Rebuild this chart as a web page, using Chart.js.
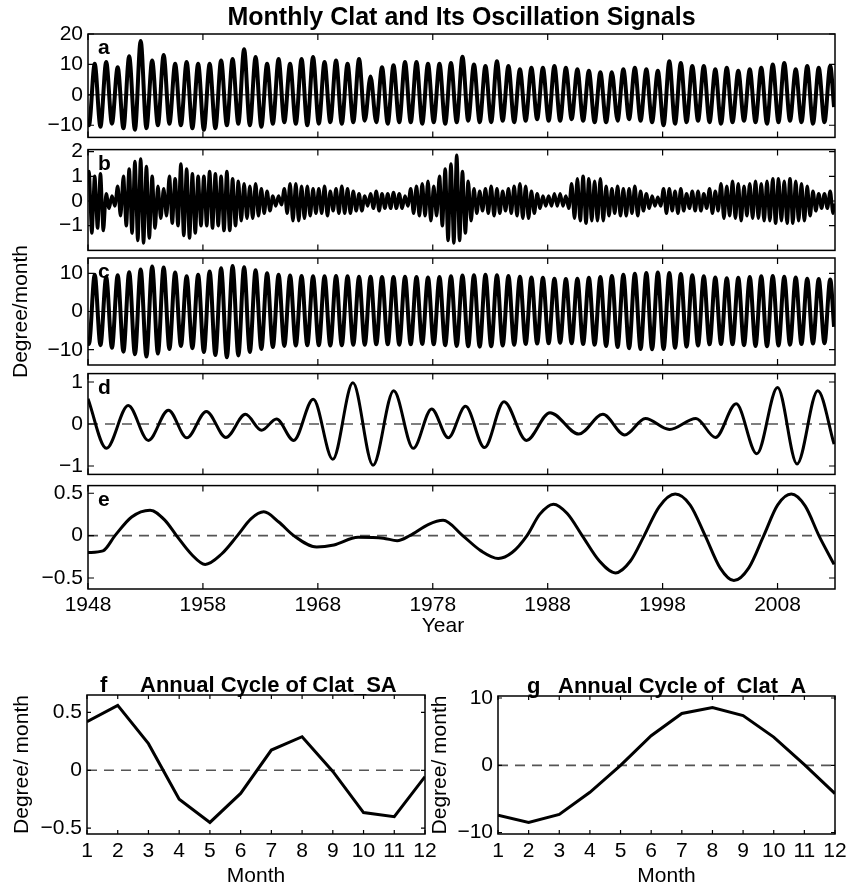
<!DOCTYPE html>
<html>
<head>
<meta charset="utf-8">
<script src="https://cdn.jsdelivr.net/npm/chart.js@4.4.0/dist/chart.umd.min.js"></script>
<style>
  body { margin: 0; background: #fff; }
  #wrap { position: relative; width: 861px; height: 889px; }
  canvas { position: absolute; }
</style>
</head>
<body>
<div id="wrap">
  <canvas id="ca" width="861" height="155" style="left:0;top:0"></canvas>
  <canvas id="cb" width="861" height="136" style="left:0;top:132px"></canvas>
  <canvas id="cc" width="861" height="165" style="left:0;top:230px"></canvas>
  <canvas id="cd" width="861" height="136" style="left:0;top:356px"></canvas>
  <canvas id="ce" width="861" height="172" style="left:0;top:468px"></canvas>
  <canvas id="cf" width="450" height="239" style="left:0;top:650px"></canvas>
  <canvas id="cg" width="433" height="239" style="left:428px;top:650px"></canvas>
</div>
<script>
// time axis
var firstYear = 1948, lastYear = 2012;
var yearTicks = [1948, 1958, 1968, 1978, 1988, 1998, 2008];
var months = [1, 2, 3, 4, 5, 6, 7, 8, 9, 10, 11, 12];

// y tick values of each panel
var aTicks = [-10, 0, 10, 20];
var bTicks = [-1, 0, 1, 2];
var cTicks = [-10, 0, 10];
var dTicks = [-1, 0, 1];
var eTicks = [-0.5, 0, 0.5];
var fTicks = [-0.5, 0, 0.5];
var gTicks = [-10, 0, 10];

// a: monthly Clat, yearly maximum (Aug) and minimum (Feb), 1948-2012
var aHigh = [10.2, 10.8, 9.1, 12.7, 17.7, 11.3, 13.1, 10.2, 10.8, 10.2,
             10.2, 11.3, 11.8, 15.0, 12.4, 10.2, 11.8, 10.2, 11.8, 12.4,
             10.8, 11.3, 10.2, 11.8, 6.0, 9.1, 9.7, 10.8, 10.8, 10.2,
             10.2, 10.5, 12.5, 10.0, 9.5, 11.0, 9.5, 8.4, 8.9, 8.9,
             9.5, 8.9, 8.4, 7.9, 7.4, 7.4, 8.4, 8.9, 8.4, 7.9,
             11.0, 10.5, 9.5, 9.5, 8.4, 8.9, 7.9, 8.4, 8.9, 10.0,
             10.5, 8.4, 9.5, 8.9, 9.5];
var aLow = [-10, -10.5, -9.5, -11, -11.5, -11, -10, -9.5, -10, -11,
            -11.5, -11, -10, -9.5, -10, -10.5, -9.5, -9, -9.5, -10,
            -9.5, -9, -9.5, -9, -8.5, -9, -9.5, -9, -9, -9.5,
            -9, -9.5, -9, -8.5, -9, -9, -8.5, -9, -8.5, -8,
            -8.5, -8.5, -8, -8.5, -9, -9, -8.5, -8, -8.5, -9,
            -10, -9.5, -9, -8.5, -9, -9.5, -9, -8.5, -9, -9.5,
            -9, -8.5, -9, -9.5, -9];
var aFirst = -8.6, aLast = -4;

// b: semi-annual signal, maxima (Feb, Aug) and minima (May, Nov), per half year
var bHigh = [1.2, 1.0, 1.1, 0.3, 0.2, 0.6, 1.0, 1.3, 1.6, 1.7,
             1.4, 1.0, 0.6, 0.5, 1.0, 0.9, 1.5, 1.3, 1.1, 1.0,
             1.0, 1.2, 1.1, 1.0, 1.2, 0.9, 0.8, 0.7, 0.6, 0.7,
             0.5, 0.4, 0.2, 0.2, 0.5, 0.7, 0.7, 0.6, 0.6, 0.5,
             0.5, 0.6, 0.4, 0.5, 0.6, 0.5, 0.4, 0.3, 0.2, 0.3,
             0.4, 0.3, 0.3, 0.35, 0.3, 0.2, 0.5, 0.6, 0.7, 0.8,
             0.6, 1.0, 1.3, 1.5, 1.85, 1.2, 0.8, 0.5, 0.4, 0.5,
             0.6, 0.5, 0.4, 0.5, 0.6, 0.7, 0.6, 0.4, 0.3, 0.2,
             0.2, 0.3, 0.3, 0.2, 0.7, 0.9, 1.0, 0.9, 0.8, 0.9,
             0.6, 0.5, 0.6, 0.5, 0.5, 0.6, 0.4, 0.3, 0.2, 0.15,
             0.5, 0.5, 0.4, 0.5, 0.3, 0.4, 0.4, 0.3, 0.5, 0.4,
             0.7, 0.6, 0.8, 0.7, 0.6, 0.7, 0.8, 0.7, 0.8, 0.9,
             0.9, 0.8, 0.9, 0.8, 0.7, 0.6, 0.4, 0.3, 0.3, 0.4];
var bLow = [-1.3, -1.1, -1.2, -0.3, -0.2, -0.6, -1.0, -1.3, -1.6, -1.7,
            -1.5, -1.1, -0.7, -0.6, -0.9, -1.0, -1.4, -1.5, -1.3, -1.0,
            -1.0, -1.1, -1.0, -1.2, -1.2, -1.0, -0.8, -0.7, -0.7, -0.6,
            -0.5, -0.4, -0.2, -0.15, -0.5, -0.8, -0.8, -0.7, -0.6, -0.5,
            -0.5, -0.6, -0.4, -0.5, -0.5, -0.5, -0.4, -0.4, -0.2, -0.3,
            -0.4, -0.3, -0.3, -0.3, -0.3, -0.2, -0.5, -0.6, -0.6, -0.8,
            -0.6, -1.0, -1.6, -1.7, -1.6, -1.3, -0.8, -0.5, -0.4, -0.5,
            -0.6, -0.5, -0.4, -0.5, -0.6, -0.7, -0.7, -0.5, -0.3, -0.2,
            -0.2, -0.2, -0.2, -0.3, -0.7, -0.8, -0.9, -0.8, -0.8, -0.8,
            -0.6, -0.5, -0.6, -0.6, -0.5, -0.6, -0.4, -0.3, -0.2, -0.2,
            -0.5, -0.4, -0.5, -0.4, -0.3, -0.4, -0.4, -0.3, -0.5, -0.4,
            -0.7, -0.6, -0.7, -0.8, -0.6, -0.7, -0.7, -0.8, -0.8, -0.9,
            -0.8, -0.9, -0.9, -0.8, -0.8, -0.6, -0.4, -0.3, -0.3, -0.5];
var bFirst = 0.8, bLast = -0.1;

// c: annual signal, yearly maximum (Aug) and minimum (Feb)
var cHigh = [9.6, 9.0, 9.5, 10.3, 11.0, 11.8, 11.5, 10.2, 9.2, 9.6,
             10.5, 11.3, 11.9, 11.6, 10.8, 10.0, 9.6, 9.4, 9.3, 9.2,
             9.2, 9.3, 9.2, 9.1, 9.1, 9.0, 9.0, 9.1, 9.0, 8.9,
             9.0, 9.2, 9.4, 9.5, 9.6, 9.5, 9.3, 9.1, 8.9, 8.8,
             8.6, 8.5, 8.6, 8.8, 9.0, 9.3, 9.6, 9.9, 10.1, 10.2,
             10.1, 9.8, 9.5, 9.2, 8.9, 8.7, 8.8, 9.0, 9.2, 9.3,
             9.1, 8.9, 8.6, 8.5, 8.4];
var cLow = [-8.5, -8.8, -9.5, -10.5, -11.2, -11.8, -11.0, -9.8, -9.0, -9.6,
            -10.6, -11.4, -12.0, -11.5, -10.6, -9.8, -9.3, -9.0, -8.9, -8.8,
            -8.8, -8.9, -8.8, -8.7, -8.7, -8.6, -8.6, -8.7, -8.6, -8.5,
            -8.6, -8.8, -9.0, -9.1, -9.2, -9.1, -8.9, -8.7, -8.5, -8.4,
            -8.3, -8.2, -8.3, -8.5, -8.7, -9.0, -9.3, -9.6, -9.8, -9.9,
            -9.8, -9.5, -9.2, -8.9, -8.6, -8.5, -8.6, -8.8, -9.0, -9.1,
            -8.9, -8.7, -8.5, -8.4, -8.3];
var cFirst = -7.5, cLast = -4;

// d: interannual signal, turning points
var dYears = [1948.0, 1949.6, 1951.5, 1953.25, 1955.0, 1956.6, 1958.3, 1960.0, 1961.7, 1963.1,
              1964.4, 1965.9, 1967.6, 1969.3, 1971.05, 1972.8, 1974.6, 1976.3, 1977.9, 1979.35,
              1980.85, 1982.5, 1984.2, 1986.15, 1988.2, 1990.7, 1992.8, 1994.7, 1996.5, 1998.6,
              2000.9, 2002.6, 2004.4, 2006.2, 2008.0, 2009.7, 2011.5, 2012.92];
var dVals = [0.60, -0.58, 0.44, -0.39, 0.33, -0.33, 0.30, -0.32, 0.23, -0.15,
             0.12, -0.39, 0.59, -0.84, 0.98, -0.98, 0.79, -0.58, 0.36, -0.33,
             0.42, -0.56, 0.53, -0.39, 0.27, -0.24, 0.23, -0.26, 0.13, -0.13,
             0.13, -0.32, 0.48, -0.71, 0.87, -0.95, 0.79, -0.48];

// e: decadal signal
var eYears = [1948.0, 1949.3, 1950.35, 1951.8, 1953.4, 1954.7, 1955.7, 1957.0, 1958.2, 1959.6,
              1961.0, 1962.2, 1963.3, 1964.6, 1965.9, 1967.9, 1969.4, 1971.5, 1973.7, 1974.9,
              1976.0, 1977.6, 1978.9, 1980.6, 1982.2, 1983.7, 1984.9, 1986.2, 1987.3, 1988.5,
              1989.7, 1991.0, 1992.5, 1993.9, 1995.2, 1996.4, 1997.7, 1999.1, 2000.4, 2001.7,
              2003.0, 2004.2, 2005.5, 2006.8, 2008.0, 2009.2, 2010.4, 2011.6, 2012.92];
var eVals = [-0.20, -0.18, 0.0, 0.22, 0.30, 0.18, 0.0, -0.22, -0.34, -0.22,
             0.0, 0.20, 0.28, 0.16, 0.0, -0.135, -0.11, -0.02, -0.03, -0.06,
             0.0, 0.13, 0.18, 0.0, -0.18, -0.27, -0.2, 0.0, 0.25, 0.37,
             0.26, 0.0, -0.3, -0.44, -0.3, 0.0, 0.34, 0.49, 0.36, 0.0,
             -0.38, -0.53, -0.38, 0.0, 0.36, 0.49, 0.35, 0.0, -0.34];

// f, g: annual cycles
var fVals = [0.42, 0.56, 0.23, -0.25, -0.45, -0.2, 0.175, 0.29, -0.01, -0.365, -0.4, -0.055];
var gVals = [-7.4, -8.5, -7.3, -4.0, 0.0, 4.4, 7.7, 8.6, 7.4, 4.2, 0.1, -4.2];

var FONT = '"Liberation Sans", Arial, Helvetica, sans-serif';
Chart.defaults.font.family = FONT;
Chart.defaults.font.size = 21;
Chart.defaults.color = '#000';

// build point lists on the time axis (month m sits at year + (m-1)/12)
function annualPoints(first, lows, highs, last) {
  var pts = [{x: firstYear, y: first}];
  for (var i = 0; i < lows.length; i++) {
    pts.push({x: firstYear + i + 1 / 12, y: lows[i]});
    pts.push({x: firstYear + i + 7 / 12, y: highs[i]});
  }
  pts.push({x: lastYear + 11 / 12, y: last});
  return pts;
}
function semiPoints(first, highs, lows, last) {
  var pts = [{x: firstYear, y: first}];
  for (var i = 0; i < highs.length; i++) {
    var y0 = firstYear + i * 0.5;
    pts.push({x: y0 + 1 / 12, y: highs[i]});
    pts.push({x: y0 + 4 / 12, y: lows[i]});
  }
  pts.push({x: lastYear + 11 / 12, y: last});
  return pts;
}
function pairPoints(xs, ys) {
  return xs.map(function (x, i) { return {x: x, y: ys[i]}; });
}

function minusLabel(v) {
  return v < 0 ? '\u2212' + Math.abs(v) : String(v);
}

// matlab style box with inward ticks, plus panel letter / heading
var boxPlugin = {
  id: 'mbox',
  afterDatasetsDraw: function (chart, args, opts) {
    var ctx = chart.ctx, a = chart.chartArea;
    var xs = chart.scales.x, ys = chart.scales.y;
    var L = opts.tick || 6;
    ctx.save();
    ctx.strokeStyle = '#000';
    ctx.lineWidth = 1.5;
    ctx.strokeRect(a.left, a.top, a.right - a.left, a.bottom - a.top);
    ctx.lineWidth = 1.2;
    ctx.beginPath();
    xs.ticks.forEach(function (t) {
      var px = xs.getPixelForValue(t.value);
      ctx.moveTo(px, a.bottom); ctx.lineTo(px, a.bottom - L);
      ctx.moveTo(px, a.top); ctx.lineTo(px, a.top + L);
    });
    ys.ticks.forEach(function (t) {
      var py = ys.getPixelForValue(t.value);
      ctx.moveTo(a.left, py); ctx.lineTo(a.left + L, py);
      ctx.moveTo(a.right, py); ctx.lineTo(a.right - L, py);
    });
    ctx.stroke();
    ctx.fillStyle = '#000';
    ctx.textBaseline = 'alphabetic';
    ctx.textAlign = 'left';
    if (opts.letter) {
      ctx.font = 'bold 21px ' + FONT;
      ctx.fillText(opts.letter, a.left + 10, a.top + 20);
    }
    if (opts.heading) {
      ctx.font = 'bold 22px ' + FONT;
      ctx.fillText(opts.heading.letter, a.left + opts.heading.letterDx, a.top - 3);
      ctx.fillText(opts.heading.text, a.left + opts.heading.textDx, a.top - 3);
    }
    if (opts.xLabel) {
      // axis name sits a little left of the plot centre in the original
      ctx.font = '21px ' + FONT;
      ctx.textAlign = 'center';
      ctx.textBaseline = 'middle';
      ctx.fillText(opts.xLabel.text, a.left + opts.xLabel.dx, a.bottom + opts.xLabel.dy);
    }
    ctx.restore();
  }
};

function seriesSet(points, width) {
  return {
    data: points, borderColor: '#000', borderWidth: width, pointRadius: 0,
    cubicInterpolationMode: 'monotone', fill: false
  };
}
function zeroSet(x0, x1, dashed) {
  return {
    data: [{x: x0, y: 0}, {x: x1, y: 0}], borderColor: dashed ? '#555' : '#222',
    borderWidth: dashed ? 1.6 : 1, borderDash: dashed ? [10, 7] : [], pointRadius: 0
  };
}

function makePanel(id, cfg) {
  var xTicksArr = cfg.xTicks;
  var yTicksArr = cfg.yTicks;
  var options = {
    responsive: false, animation: false, devicePixelRatio: 1,
    layout: {padding: cfg.padding},
    plugins: {
      legend: {display: false}, tooltip: {enabled: false},
      title: cfg.title || {display: false},
      mbox: {letter: cfg.letter, heading: cfg.heading, tick: cfg.tick, xLabel: cfg.xLabel}
    },
    scales: {
      x: {
        type: 'linear', min: cfg.xMin, max: cfg.xMax,
        grid: {display: false, drawTicks: false}, border: {display: false},
        afterBuildTicks: function (s) { s.ticks = xTicksArr.map(function (v) { return {value: v}; }); },
        afterFit: function (s) { s.height = cfg.xHeight; },
        ticks: {display: cfg.xLabels, padding: cfg.xPad || 5, maxRotation: 0, autoSkip: false,
                callback: function (v) { return String(v); }},
        title: cfg.xTitle || {display: false}
      },
      y: {
        min: cfg.yMin, max: cfg.yMax,
        grid: {display: false, drawTicks: false}, border: {display: false},
        afterBuildTicks: function (s) { s.ticks = yTicksArr.map(function (v) { return {value: v}; }); },
        afterFit: function (s) { s.width = cfg.yWidth; },
        ticks: {padding: 5, autoSkip: false, callback: minusLabel},
        title: cfg.yTitle || {display: false}
      }
    }
  };
  return new Chart(document.getElementById(id), {
    type: 'line',
    data: {datasets: cfg.datasets},
    options: options,
    plugins: [boxPlugin]
  });
}

var X0 = 1948, X1 = 2013;

makePanel('ca', {
  padding: {top: 0, right: 26, bottom: 14, left: 0},
  title: {display: true, text: 'Monthly Clat and Its Oscillation Signals', fullSize: false,
          font: {size: 25, weight: 'bold'}, lineHeight: 1.1, padding: {top: 3, bottom: 1}},
  xMin: X0, xMax: X1, xTicks: yearTicks, xHeight: 0, xLabels: false,
  yMin: -14, yMax: 20, yTicks: aTicks, yWidth: 88, letter: 'a',
  datasets: [seriesSet(annualPoints(aFirst, aLow, aHigh, aLast), 4), zeroSet(X0, X1, false)]
});

makePanel('cb', {
  padding: {top: 15, right: 26, bottom: 15, left: 0},
  xMin: X0, xMax: X1, xTicks: yearTicks, xHeight: 0, xLabels: false,
  yMin: -2, yMax: 2.08, yTicks: bTicks, yWidth: 88, letter: 'b',
  datasets: [seriesSet(semiPoints(bFirst, bHigh, bLow, bLast), 3.4)]
});

makePanel('cc', {
  padding: {top: 28, right: 26, bottom: 30, left: 0},
  xMin: X0, xMax: X1, xTicks: yearTicks, xHeight: 0, xLabels: false,
  yMin: -14, yMax: 14, yTicks: cTicks, yWidth: 88, letter: 'c',
  yTitle: {display: true, text: 'Degree/month', font: {size: 21}, padding: {top: 9, bottom: 0}},
  datasets: [seriesSet(annualPoints(cFirst, cLow, cHigh, cLast), 4), zeroSet(X0, X1, false)]
});

makePanel('cd', {
  padding: {top: 15, right: 26, bottom: 15, left: 0},
  xMin: X0, xMax: X1, xTicks: yearTicks, xHeight: 0, xLabels: false,
  yMin: -1.2, yMax: 1.2, yTicks: dTicks, yWidth: 88, letter: 'd',
  datasets: [seriesSet(pairPoints(dYears, dVals), 3), zeroSet(X0, X1, true)]
});

makePanel('ce', {
  padding: {top: 15, right: 26, bottom: 0, left: 0},
  xMin: X0, xMax: X1, xTicks: yearTicks, xHeight: 51, xLabels: true, xPad: 4,
  xLabel: {text: 'Year', dx: 355, dy: 37},
  yMin: -0.63, yMax: 0.59, yTicks: eTicks, yWidth: 88, letter: 'e',
  datasets: [seriesSet(pairPoints(eYears, eVals), 3), zeroSet(X0, X1, true)]
});

makePanel('cf', {
  padding: {top: 45, right: 25, bottom: 0, left: 0},
  xMin: 1, xMax: 12, xTicks: months, xHeight: 55, xLabels: true, xPad: 5, tick: 4,
  xTitle: {display: true, text: 'Month', font: {size: 21}, padding: {top: 0, bottom: 0}},
  yMin: -0.55, yMax: 0.65, yTicks: fTicks, yWidth: 87,
  yTitle: {display: true, text: 'Degree/ month', font: {size: 21}, padding: {top: 10, bottom: 0}},
  heading: {letter: 'f', letterDx: 13, text: 'Annual Cycle of Clat_SA', textDx: 53},
  datasets: [{data: pairPoints(months, fVals), borderColor: '#000', borderWidth: 3, pointRadius: 0, tension: 0},
             zeroSet(1, 12, true)]
});

makePanel('cg', {
  padding: {top: 46, right: 26, bottom: 0, left: 0},
  xMin: 1, xMax: 12, xTicks: months, xHeight: 55, xLabels: true, xPad: 5, tick: 4,
  xTitle: {display: true, text: 'Month', font: {size: 21}, padding: {top: 0, bottom: 0}},
  yMin: -10.2, yMax: 10.3, yTicks: gTicks, yWidth: 70,
  yTitle: {display: true, text: 'Degree/ month', font: {size: 21}, padding: {top: 0, bottom: 0}},
  heading: {letter: 'g', letterDx: 29, text: 'Annual Cycle of  Clat_A', textDx: 60},
  datasets: [{data: pairPoints(months, gVals), borderColor: '#000', borderWidth: 3, pointRadius: 0, tension: 0},
             zeroSet(1, 12, true)]
});
</script>
</body>
</html>
